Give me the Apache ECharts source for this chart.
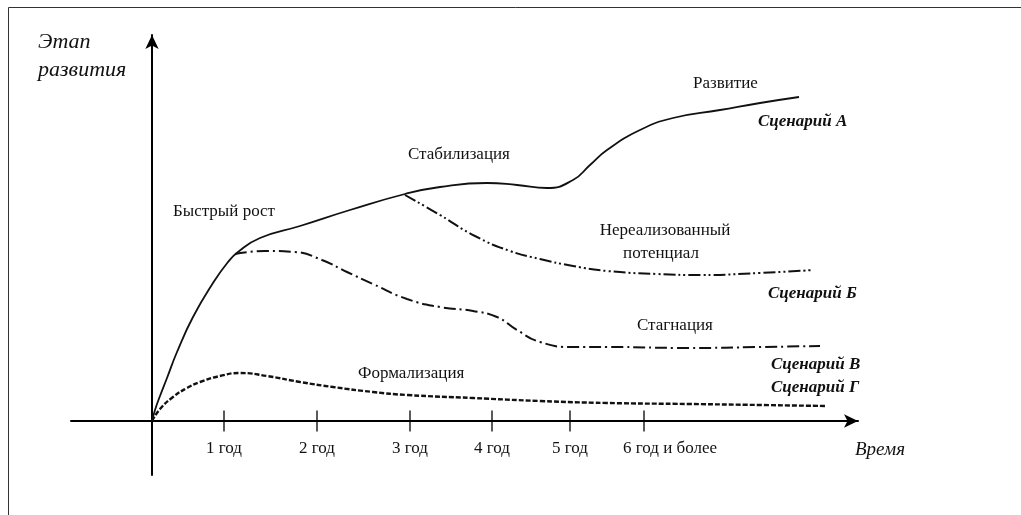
<!DOCTYPE html>
<html>
<head>
<meta charset="utf-8">
<script src="https://cdn.jsdelivr.net/npm/echarts@6/dist/echarts.min.js"></script>
<style>
  html, body { margin: 0; padding: 0; background: #fff; }
  #chart { width: 1021px; height: 515px; }
</style>
</head>
<body>
<div id="chart"></div>
<script>
// x: 1 unit = 100px from origin, y: 1 unit = 10px above the time axis
const tickValues = [0.72, 1.65, 2.58, 3.40, 4.18, 4.92]
const tickLabels = ['1 год', '2 год', '3 год', '4 год', '5 год', '6 год и более']

// Сценарий А — развитие
const scenarioA = [
  [0, 0], [0.03, 1.1], [0.08, 2.5], [0.15, 4.3], [0.25, 6.9], [0.41, 10.4],
  [0.61, 13.8], [0.76, 15.9], [0.86, 16.9], [1.08, 18.3], [1.48, 19.5],
  [1.98, 21.1], [2.53, 22.7], [2.88, 23.4], [3.35, 23.8],
  [3.65, 23.6], [3.95, 23.3], [4.21, 24.1], [4.38, 25.6], [4.55, 27.1],
  [4.88, 29.1], [5.21, 30.3], [5.68, 31.1], [6.08, 31.8], [6.47, 32.4]
]
// Сценарий Б — нереализованный потенциал
const scenarioB = [
  [2.53, 22.6], [2.88, 20.6], [3.23, 18.5], [3.58, 17.0], [3.88, 16.2],
  [4.21, 15.5], [4.55, 15.0], [5.05, 14.7], [5.48, 14.6], [6.08, 14.8], [6.61, 15.1]
]
// Сценарий В — стагнация
const scenarioV = [
  [0.83, 16.7], [1.13, 17.0], [1.43, 16.9], [1.70, 16.1], [1.95, 14.9],
  [2.21, 13.7], [2.55, 12.2], [2.88, 11.4], [3.21, 11.0], [3.45, 10.4],
  [3.65, 9.1], [3.88, 7.9], [4.21, 7.4], [4.55, 7.4], [5.38, 7.3],
  [6.08, 7.4], [6.68, 7.5]
]
// Сценарий Г — формализация
const scenarioG = [
  [0, 0], [0.08, 1.2], [0.21, 2.4], [0.35, 3.3], [0.48, 3.9], [0.68, 4.5],
  [0.88, 4.8], [1.15, 4.5], [1.48, 3.9], [1.81, 3.4], [2.21, 2.9],
  [2.55, 2.6], [3.21, 2.3], [3.88, 2.0], [4.55, 1.8], [5.38, 1.7],
  [6.08, 1.6], [6.73, 1.5]
]

const serif = '"Liberation Serif", "DejaVu Serif", serif'

function txt(text, x, y, font, align) {
  return {
    type: 'text',
    x: x,
    y: y,
    silent: true,
    style: {
      text: text,
      font: font,
      fill: '#111',
      textAlign: align || 'left',
      textVerticalAlign: 'middle'
    }
  }
}

const chart = echarts.init(document.getElementById('chart'))

chart.setOption({
  backgroundColor: '#fff',
  animation: false,
  grid: { left: 71, right: 163, top: 35, bottom: 40 },
  xAxis: {
    type: 'value',
    min: -0.81,
    max: 7.06,
    splitLine: { show: false },
    axisTick: { show: false },
    axisLabel: { show: false },
    axisLine: {
      onZero: true,
      symbol: ['none', 'arrow'],
      symbolSize: [10, 14],
      lineStyle: { color: '#000', width: 2 }
    }
  },
  yAxis: {
    type: 'value',
    min: -5.4,
    max: 38.6,
    splitLine: { show: false },
    axisTick: { show: false },
    axisLabel: { show: false },
    axisLine: {
      onZero: true,
      symbol: ['none', 'arrow'],
      symbolSize: [10, 14],
      lineStyle: { color: '#000', width: 2 }
    }
  },
  series: [
    {
      name: 'Сценарий А',
      type: 'line',
      data: scenarioA,
      smooth: 0.5,
      symbol: 'none',
      lineStyle: { color: '#111', width: 1.8 },
      z: 3
    },
    {
      name: 'Сценарий Б',
      type: 'line',
      data: scenarioB,
      smooth: 0.5,
      symbol: 'none',
      lineStyle: { color: '#111', width: 2, type: [12, 3, 2, 3, 2, 3] }
    },
    {
      name: 'Сценарий В',
      type: 'line',
      data: scenarioV,
      smooth: 0.5,
      symbol: 'none',
      lineStyle: { color: '#111', width: 2, type: [12, 4, 2, 4] }
    },
    {
      name: 'Сценарий Г',
      type: 'line',
      data: scenarioG,
      smooth: 0.5,
      symbol: 'none',
      lineStyle: { color: '#111', width: 2.4, type: [5, 2] }
    },
    {
      // tick marks crossing the time axis, with their year labels
      name: 'ticks',
      type: 'scatter',
      data: tickValues.map(v => [v, 0]),
      symbol: 'rect',
      symbolSize: [1.3, 21],
      itemStyle: { color: '#000', opacity: 1 },
      silent: true,
      z: 1,
      label: {
        show: true,
        position: 'bottom',
        distance: 9,
        color: '#111',
        opacity: 1,
        fontFamily: serif,
        fontSize: 17,
        formatter: (p) => tickLabels[p.dataIndex]
      },
      labelLayout: (p) => p.dataIndex === tickValues.length - 1 ? { dx: 26 } : {}
    }
  ],
  graphic: [
    {
      type: 'rect',
      silent: true,
      shape: { x: 8.5, y: 7.5, width: 1100, height: 600 },
      style: { fill: 'none', stroke: '#333', lineWidth: 1 }
    },
    txt('Этап', 38, 42, 'italic 22px ' + serif),
    txt('развития', 38, 70, 'italic 22px ' + serif),
    txt('Время', 855, 450, 'italic 19px ' + serif),
    txt('Быстрый рост', 173, 212, '17px ' + serif),
    txt('Стабилизация', 408, 155, '17px ' + serif),
    txt('Развитие', 693, 84, '17px ' + serif),
    txt('Нереализованный', 665, 231, '17px ' + serif, 'center'),
    txt('потенциал', 661, 254, '17px ' + serif, 'center'),
    txt('Стагнация', 637, 326, '17px ' + serif),
    txt('Формализация', 358, 374, '17px ' + serif),
    txt('Сценарий А', 758, 122, 'italic bold 17px ' + serif),
    txt('Сценарий Б', 768, 294, 'italic bold 17px ' + serif),
    txt('Сценарий В', 771, 365, 'italic bold 17px ' + serif),
    txt('Сценарий Г', 771, 388, 'italic bold 17px ' + serif)
  ]
})
</script>
</body>
</html>
